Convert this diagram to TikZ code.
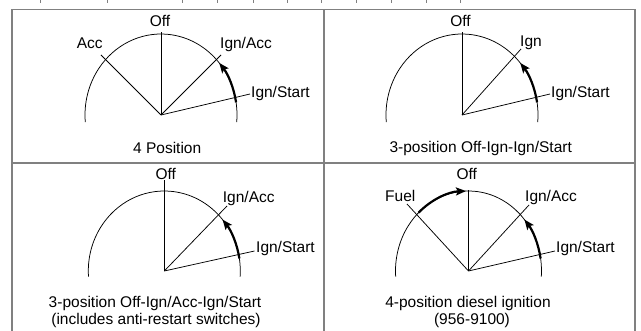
\documentclass[tikz,border=0pt]{standalone}
\usepackage{fontspec}
\setmainfont{Liberation Sans}
\usetikzlibrary{arrows.meta}
\begin{document}
\begin{tikzpicture}[x=1pt,y=1pt,
  frame/.style={draw=black!50, line width=1.2pt},
  tickmark/.style={draw=black!50, line width=0.8pt},
  dial/.style={line width=0.75pt},
  lab/.style={font=\fontsize{15.5}{18}\selectfont, inner sep=0pt},
  captext/.style={font=\fontsize{15.5}{17.5}\selectfont, inner sep=0pt, anchor=base},
  mv/.style={line width=2.2pt, -{Stealth[length=10pt,width=8pt,inset=2pt]}},
]
\useasboundingbox (0,0) rectangle (641,-331);
% frame
\draw[frame] (12,-331) -- (12,-9.5) -- (635,-9.5) -- (635,-331);
\draw[frame] (324,-9.5) -- (324,-331);
\draw[frame] (12,-163) -- (635,-163);
\foreach \x in {40,107,182,217,253,287,321,356,391,426,460}
  \draw[tickmark] (\x,0) -- (\x,-3);

% ---------- panel 1 ----------
\coordinate (h1) at (161,-115);
\node[lab,anchor=base] (off1) at (160,-26.7) {Off};
\node[lab,anchor=base west] (acc1) at (76.7,-48.7) {Acc};
\node[lab,anchor=base west] (ia1) at (220,-48.7) {Ign/Acc};
\node[lab,anchor=base west] (is1) at (251,-97.3) {Ign/Start};
\coordinate (e1o) at (161,-32);
\coordinate (e1a) at (101,-55);
\coordinate (e1i) at (221,-55);
\coordinate (e1s) at (250,-94);
\draw[dial] (h1) ++(-5:76pt and 81pt) arc[start angle=-5, end angle=185, x radius=76pt, y radius=81pt];
\draw[dial] (h1) -- (e1o);
\draw[dial] (h1) -- (e1a);
\draw[dial] (h1) -- (e1i);
\draw[dial] (h1) -- (e1s);
\draw[mv] (h1) ++(9:76pt and 81pt) arc[start angle=9, end angle=40, x radius=76pt, y radius=81pt];
\node[captext] (c1) at (167.2,-154) {4 Position};

% ---------- panel 2 ----------
\coordinate (h2) at (462,-115);
\node[lab,anchor=base] (off2) at (460.5,-26.3) {Off};
\node[lab,anchor=base west] (ign2) at (520,-46.7) {Ign};
\node[lab,anchor=base west] (is2) at (551,-97.3) {Ign/Start};
\coordinate (e2o) at (462,-32);
\coordinate (e2i) at (521,-49);
\coordinate (e2s) at (550,-94);
\draw[dial] (h2) ++(-5:76pt and 81pt) arc[start angle=-5, end angle=185, x radius=76pt, y radius=81pt];
\draw[dial] (h2) -- (e2o);
\draw[dial] (h2) -- (e2i);
\draw[dial] (h2) -- (e2s);
\draw[mv] (h2) ++(9:76pt and 81pt) arc[start angle=9, end angle=40, x radius=76pt, y radius=81pt];
\node[captext] (c2) at (480.7,-152.3) {3-position Off-Ign-Ign/Start};

% ---------- panel 3 ----------
\coordinate (h3) at (164.3,-271);
\node[lab,anchor=base] (off3) at (165.7,-180) {Off};
\node[lab,anchor=base west] (ia3) at (222.7,-202.3) {Ign/Acc};
\node[lab,anchor=base west] (is3) at (256,-252.3) {Ign/Start};
\coordinate (e3o) at (164.3,-180.5);
\coordinate (e3i) at (227,-206);
\coordinate (e3s) at (254.5,-251);
\draw[dial] (h3) ++(-4:76pt and 80pt) arc[start angle=-4, end angle=184, x radius=76pt, y radius=80pt];
\draw[dial] (h3) -- (e3o);
\draw[dial] (h3) -- (e3i);
\draw[dial] (h3) -- (e3s);
\draw[mv] (h3) ++(9:76pt and 80pt) arc[start angle=9, end angle=40, x radius=76pt, y radius=80pt];
\node[captext] (c3a) at (155,-307.7) {3-position Off-Ign/Acc-Ign/Start};
\node[captext] (c3b) at (156,-325) {(includes anti-restart switches)};

% ---------- panel 4 ----------
\coordinate (h4) at (468.5,-271);
\node[lab,anchor=base] (off4) at (466.7,-180) {Off};
\node[lab,anchor=base west] (fu4) at (385,-201.7) {Fuel};
\node[lab,anchor=base west] (ia4) at (525,-201.7) {Ign/Acc};
\node[lab,anchor=base west] (is4) at (556,-252.3) {Ign/Start};
\coordinate (e4o) at (468.5,-190);
\coordinate (e4f) at (407,-204);
\coordinate (e4i) at (529,-205);
\coordinate (e4s) at (555,-251);
\draw[dial] (h4) ++(-4:73pt and 80pt) arc[start angle=-4, end angle=184, x radius=73pt, y radius=80pt];
\draw[dial] (h4) -- (e4o);
\draw[dial] (h4) -- (e4f);
\draw[dial] (h4) -- (e4i);
\draw[dial] (h4) -- (e4s);
\draw[mv] (h4) ++(9:73pt and 80pt) arc[start angle=9, end angle=40, x radius=73pt, y radius=80pt];
\draw[mv] (h4) ++(133:73pt and 80pt) arc[start angle=133, end angle=92, x radius=73pt, y radius=80pt];
\node[captext] (c4a) at (468,-307.7) {4-position diesel ignition};
\node[captext] (c4b) at (472,-325) {(956-9100)};
\end{tikzpicture}
\end{document}
